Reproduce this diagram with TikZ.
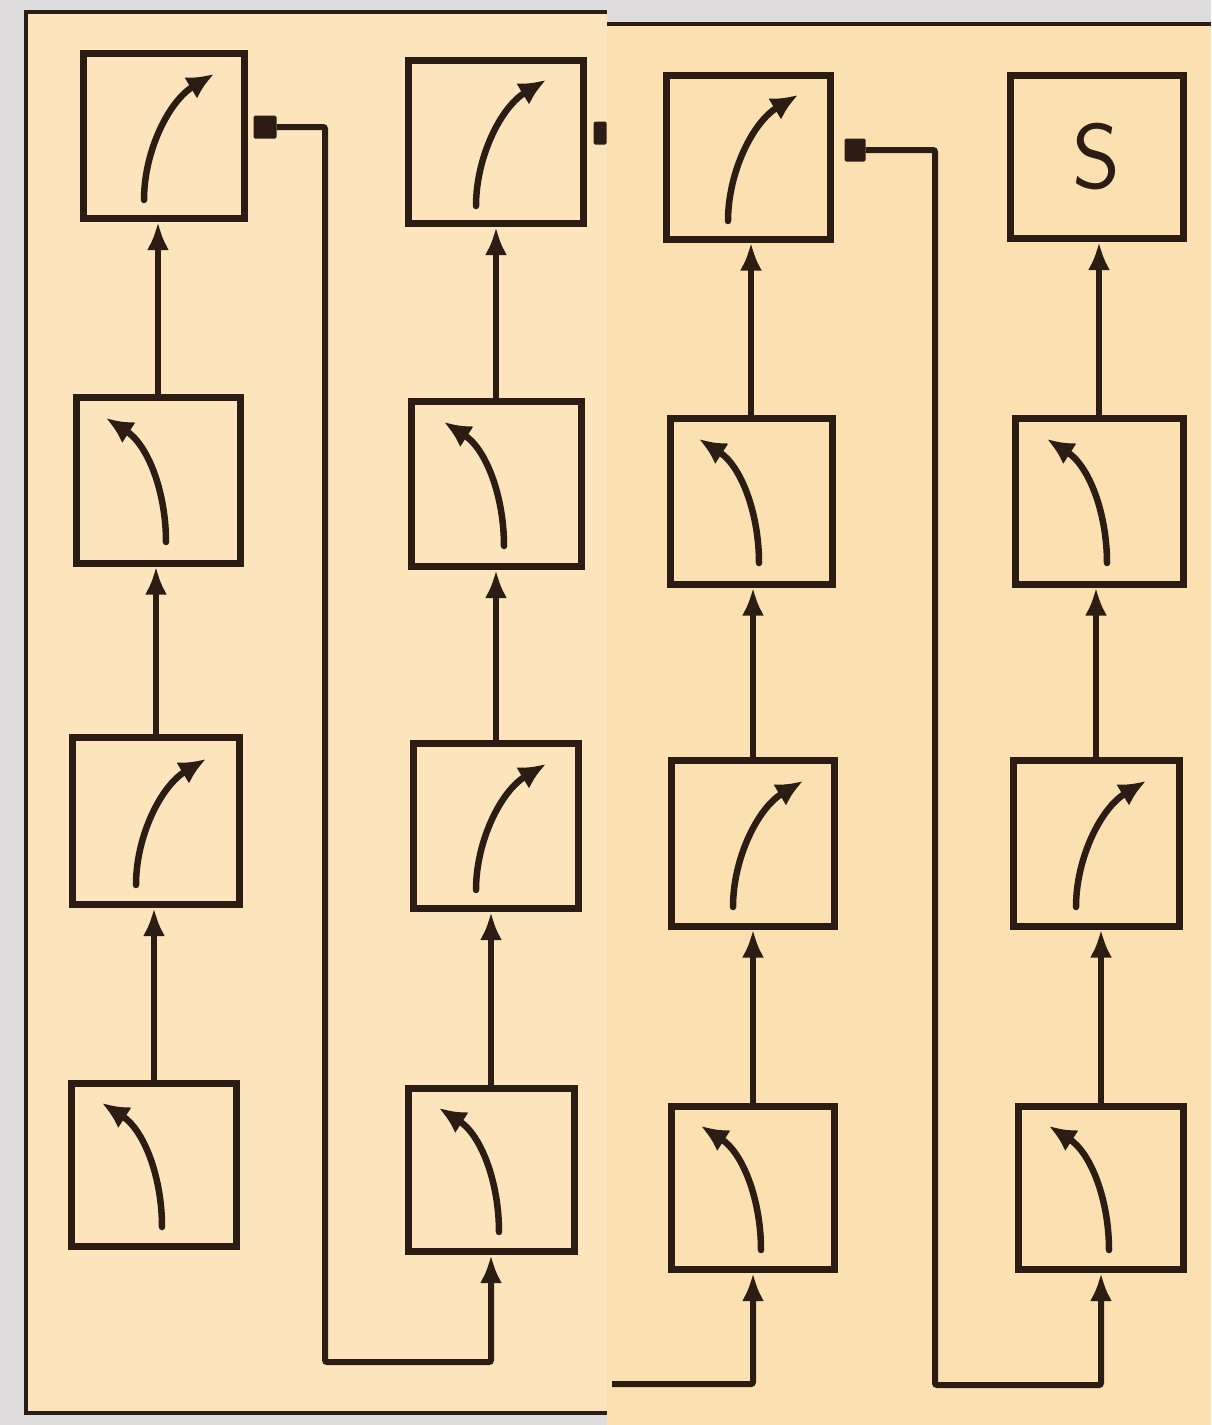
\documentclass[tikz,border=0pt]{standalone}
\usetikzlibrary{arrows.meta}
\definecolor{ink}{HTML}{2B1D14}
\definecolor{paperL}{HTML}{FCE4BC}
\definecolor{paperR}{HTML}{FBE0B1}
\definecolor{bgrey}{HTML}{DEDCDC}
\newcommand\curveR[1]{\draw[curv] ([shift={(-20,64)}]#1.center) .. controls ([shift={(-20,15)}]#1.center) and ([shift={(5,-35)}]#1.center) .. ([shift={(50,-62)}]#1.center);}
\newcommand\curveL[1]{\draw[curv] ([shift={(8,62)}]#1.center) .. controls ([shift={(8,12)}]#1.center) and ([shift={(-10,-35)}]#1.center) .. ([shift={(-52,-62)}]#1.center);}
\begin{document}
\begin{tikzpicture}[x=1pt,y=-1pt,
  blk/.style={draw=ink, line width=7pt, inner sep=0pt},
  flow/.style={draw=ink, line width=6pt, rounded corners=2pt, -{Latex[length=28pt,width=22pt]}},
  curv/.style={draw=ink, line width=6.5pt, line cap=round, -{Latex[length=27pt,width=25pt]}},
  tapbox/.style={fill=ink, inner sep=0pt, rounded corners=1.5pt},
]
\useasboundingbox (0,0) rectangle (1211,1425);
% pages
\fill[bgrey] (0,0) rectangle (1211,1425);
\fill[paperL] (26,12) rectangle (607,1413);
\fill[paperR] (607,24) rectangle (1211,1425);
\draw[ink, line width=4.5pt] (607,12) -- (26,12) -- (26,1413) -- (607,1413);
\draw[ink, line width=4pt] (607,24) -- (1211,24);

% column 1
\node[blk, minimum width=161pt, minimum height=165pt] (c1r1) at (164,136) {};
\node[blk, minimum width=164pt, minimum height=166pt] (c1r2) at (158,480) {};
\node[blk, minimum width=167pt, minimum height=167pt] (c1r3) at (156,821) {};
\node[blk, minimum width=165pt, minimum height=163pt] (c1r4) at (154,1165) {};
% column 2
\node[blk, minimum width=175pt, minimum height=163pt] (c2r1) at (496,142) {};
\node[blk, minimum width=170pt, minimum height=165pt] (c2r2) at (496,484) {};
\node[blk, minimum width=165pt, minimum height=165pt] (c2r3) at (496,826) {};
\node[blk, minimum width=166pt, minimum height=163pt] (c2r4) at (491,1170) {};
% column 3
\node[blk, minimum width=164pt, minimum height=164pt] (c3r1) at (748,157) {};
\node[blk, minimum width=162pt, minimum height=166pt] (c3r2) at (751,501) {};
\node[blk, minimum width=163pt, minimum height=166pt] (c3r3) at (753,843) {};
\node[blk, minimum width=163pt, minimum height=163pt] (c3r4) at (753,1188) {};
% column 4
\node[blk, minimum width=173pt, minimum height=163pt, text=ink, font=\sffamily\fontsize{92}{92}\selectfont] (c4r1) at (1097,157) {S};
\node[blk, minimum width=168pt, minimum height=166pt] (c4r2) at (1099,501) {};
\node[blk, minimum width=166pt, minimum height=166pt] (c4r3) at (1096,843) {};
\node[blk, minimum width=165pt, minimum height=163pt] (c4r4) at (1101,1188) {};

% curved arrows inside boxes
\curveR{c1r1} \curveL{c1r2} \curveR{c1r3} \curveL{c1r4}
\curveR{c2r1} \curveL{c2r2} \curveR{c2r3} \curveL{c2r4}
\curveR{c3r1} \curveL{c3r2} \curveR{c3r3} \curveL{c3r4}
\curveL{c4r2} \curveR{c4r3} \curveL{c4r4}

% vertical flow arrows
\foreach \c in {1,2,3,4}{
  \draw[flow] (c\c r4.north) -- (c\c r4.north |- c\c r3.south);
  \draw[flow] (c\c r3.north) -- (c\c r3.north |- c\c r2.south);
  \draw[flow] (c\c r2.north) -- (c\c r2.north |- c\c r1.south);
}

% tap markers
\node[tapbox, minimum width=23pt, minimum height=23pt] (m1) at (265,127) {};
\node[tapbox, minimum width=13pt, minimum height=23pt] (m2) at (600,133) {};
\node[tapbox, minimum width=21pt, minimum height=23pt] (m3) at (855,150) {};

% feedback connectors
\coordinate (t1) at (325,1362);
\coordinate (t2) at (612,1384);
\coordinate (t3) at (935,1385);
\draw[flow] (m1.east) -| (t1) -| (c2r4.south);
\draw[flow] (t2) -| (c3r4.south);
\draw[flow] (m3.east) -| (t3) -| (c4r4.south);
\end{tikzpicture}
\end{document}
